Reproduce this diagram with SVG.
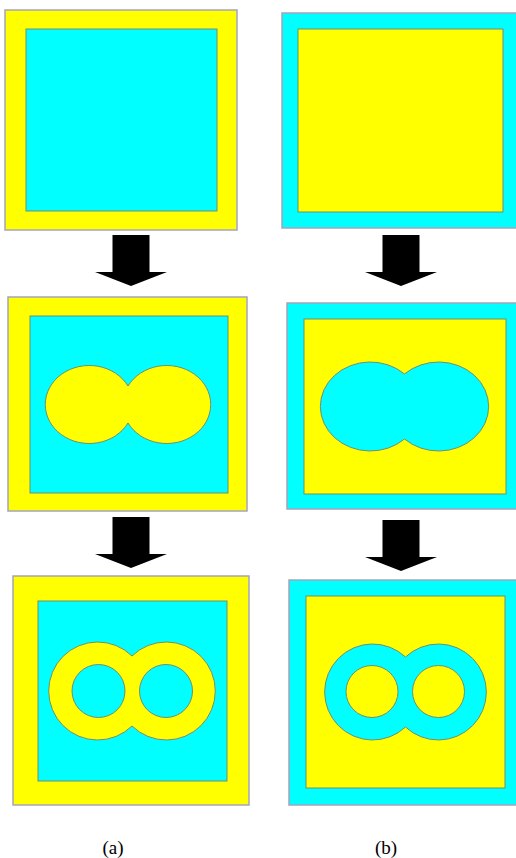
<svg xmlns="http://www.w3.org/2000/svg" width="516" height="858" viewBox="0 0 516 858">
<style>
.y{fill:#ffff00}
.c{fill:#00ffff}
.out{stroke:#a4a4bc;stroke-width:1.5}
.in{stroke:#6f8f6f;stroke-width:1}
.lbl{font-family:"Liberation Serif","Times New Roman",serif;font-size:19px;fill:#000}
.arr{fill:#000}
</style>
<defs>
<path id="arrow" d="M-18.5,0 H18.5 V37 H36 L0,51 L-36,37 H-18.5 Z"/>
</defs>
<rect width="516" height="858" fill="#fff"/>
<g id="a1">
<rect class="y out" x="5" y="10" width="232" height="220"/>
<rect class="c in" x="26" y="29" width="191" height="182"/>
</g>
<g id="b1">
<rect class="c out" x="282" y="13" width="236" height="215"/>
<rect class="y in" x="298" y="29" width="205" height="183"/>
</g>
<g id="a2">
<rect class="y out" x="8" y="297" width="239" height="214"/>
<rect class="c in" x="30" y="316" width="198" height="177"/>
<path class="y in" d="M128,386 A44,39 0 1 0 128,423 A44,39 0 1 0 128,386 Z"/>
</g>
<g id="b2">
<rect class="c out" x="287" y="303" width="231" height="206"/>
<rect class="y in" x="304" y="319" width="202" height="175"/>
<path class="c in" d="M404.5,374 A50,44.5 0 1 0 404.5,439 A50,44.5 0 1 0 404.5,374 Z"/>
</g>
<g id="a3">
<rect class="y out" x="13" y="576" width="236" height="229"/>
<rect class="c in" x="38" y="601" width="189" height="180"/>
<path class="y in" d="M132,656 A49,49 0 1 0 132,726 A49,49 0 1 0 132,656 Z"/>
<circle class="c in" cx="98.5" cy="691" r="26.5"/>
<circle class="c in" cx="166" cy="691" r="26.5"/>
</g>
<g id="b3">
<rect class="c out" x="289" y="580" width="229" height="225"/>
<rect class="y in" x="306" y="596" width="199" height="192"/>
<path class="c in" d="M405.5,657 A48,48 0 1 0 405.5,727 A48,48 0 1 0 405.5,657 Z"/>
<circle class="y in" cx="372" cy="691.5" r="26"/>
<circle class="y in" cx="438.5" cy="691.5" r="26"/>
</g>
<g id="connectors">
<use class="arr" href="#arrow" x="131" y="235"/>
<use class="arr" href="#arrow" x="401" y="235"/>
<use class="arr" href="#arrow" x="131" y="517"/>
<use class="arr" href="#arrow" x="401" y="520"/>
</g>
<g id="labels">
<text class="lbl" x="113" y="854" text-anchor="middle">(a)</text>
<text class="lbl" x="386" y="854" text-anchor="middle">(b)</text>
</g>
</svg>
